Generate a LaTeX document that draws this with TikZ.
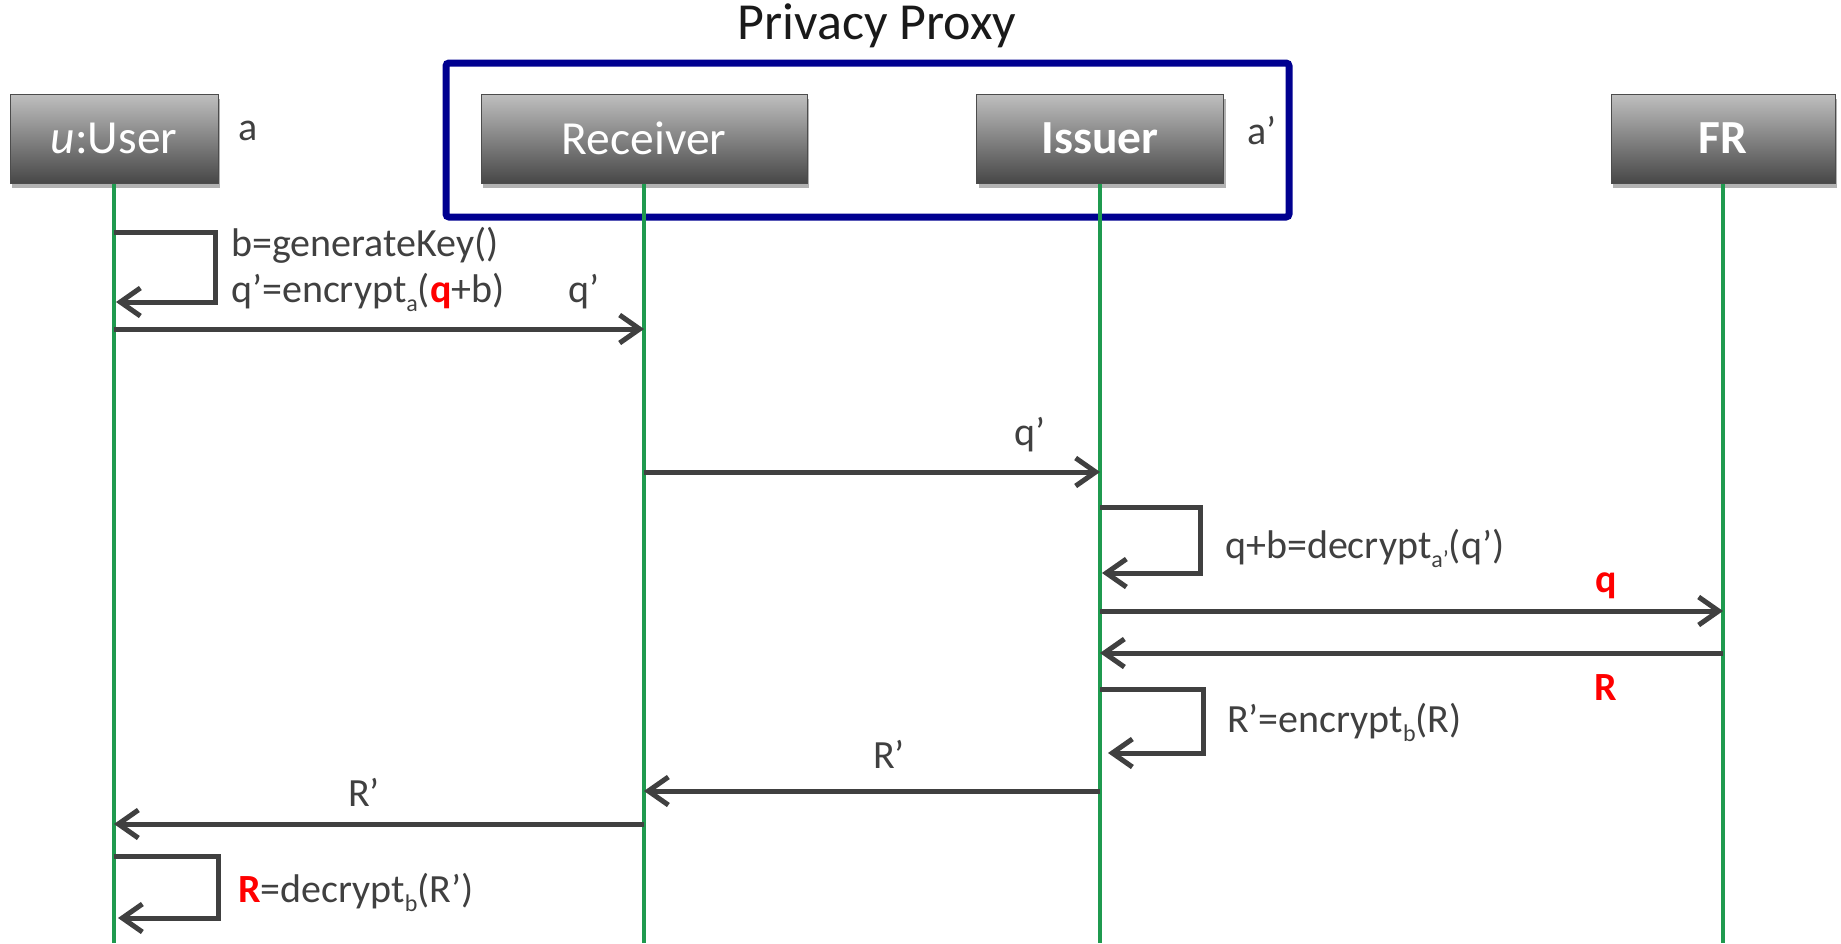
\documentclass[tikz,border=0pt]{standalone}
\usepackage{fontspec}
\setmainfont{Carlito}
\usetikzlibrary{arrows.meta,shadows}
\definecolor{ink}{HTML}{404040}
\definecolor{life}{HTML}{1F9A4F}
\definecolor{proxyblue}{HTML}{000090}
\definecolor{hot}{HTML}{FF0000}
\newcommand{\hl}[1]{\textcolor{hot}{\textbf{#1}}}
\newcommand{\lowsub}[1]{\raisebox{-0.22em}{\fontsize{24}{24}\selectfont #1}}

\begin{document}
\begin{tikzpicture}[x=1pt,y=-1pt,
  actor/.style={draw=black!70, line width=1pt, top color=black!25, bottom color=black!72,
    text=white, font=\fontsize{47.5}{50}\selectfont, minimum height=89pt, inner sep=0pt,
    drop shadow={shadow xshift=2pt, shadow yshift=-5pt, opacity=0.3, fill=black}},
  lifeline/.style={draw=life, line width=4pt},
  msg/.style={draw=ink, line width=5pt, -{Straight Barb[length=20pt,width=28pt]}},
  lbl/.style={text=ink, font=\fontsize{40}{46}\selectfont, inner sep=0pt,
    text height=0.5em, text depth=0.4em, yshift=-11pt},
]
\useasboundingbox (0,0) rectangle (1841,943);

% proxy frame and its title
\node[draw=proxyblue, line width=7pt, rounded corners=3pt,
      minimum width=843pt, minimum height=154pt] (proxy) at (867.5,140) {};
\node[font=\fontsize{52}{56}\selectfont, text=black!90] (ptitle) at (877,26) {Privacy Proxy};

% participants
\node[actor, minimum width=208pt] (user) at (114,138.5) {\textit{u}:User};
\node[actor, minimum width=326pt] (receiver) at (644,138.5) {Receiver};
\node[actor, minimum width=247pt] (issuer) at (1100,138.5) {\textbf{Issuer}};
\node[actor, minimum width=224pt] (fr) at (1723,138.5) {\textbf{FR}};

\node[lbl] (keyA) at (248,129) {a};
\node[lbl] (keyA2) at (1262,133) {a’};

% lifelines
\coordinate (userEnd) at (user |- 0,943);
\coordinate (receiverEnd) at (receiver |- 0,943);
\coordinate (issuerEnd) at (issuer |- 0,943);
\coordinate (frEnd) at (fr |- 0,943);
\draw[lifeline] (user.south) -- (userEnd);
\draw[lifeline] (receiver.south) -- (receiverEnd);
\draw[lifeline] (issuer.south) -- (issuerEnd);
\draw[lifeline] (fr.south) -- (frEnd);

% user: key generation and encryption
\draw[msg] (user |- 0,232) -- (215,232) -- (215,302) -- ([xshift=2pt]user |- 0,302);
\node[lbl, anchor=west] (t1) at (231,245) {b=generateKey()};
\node[lbl, anchor=west] (t2) at (231,291) {q’=encrypt\lowsub{a}(\hl{q}+b)};

% user -> receiver
\draw[msg] (user |- 0,329) -- (receiver |- 0,329);
\node[lbl] (l1) at (584,291) {q’};

% receiver -> issuer
\draw[msg] (receiver |- 0,472) -- (issuer |- 0,472);
\node[lbl] (l2) at (1030,434) {q’};

% issuer decrypts
\draw[msg] (issuer |- 0,507) -- (1200,507) -- (1200,573) -- ([xshift=2pt]issuer |- 0,573);
\node[lbl, anchor=west] (t3) at (1225,547) {q+b=decrypt\lowsub{a’}(q’)};

% issuer <-> FR
\draw[msg] (issuer |- 0,611) -- (fr |- 0,611);
\node[lbl] (l3) at (1606,581) {\hl{q}};
\draw[msg] (fr |- 0,653) -- (issuer |- 0,653);
\node[lbl] (l4) at (1606,689) {\hl{R}};

% issuer re-encrypts
\draw[msg] (issuer |- 0,689) -- (1203,689) -- (1203,753) -- ([xshift=8pt]issuer |- 0,753);
\node[lbl, anchor=west] (t4) at (1227,721) {R’=encrypt\lowsub{b}(R)};

% issuer -> receiver -> user
\draw[msg] (issuer |- 0,791) -- (receiver |- 0,791);
\node[lbl] (l5) at (889,757) {R’};
\draw[msg] (receiver |- 0,824) -- (user |- 0,824);
\node[lbl] (l6) at (364,795) {R’};

% user decrypts
\draw[msg] (user |- 0,856) -- (218,856) -- (218,918) -- ([xshift=4pt]user |- 0,918);
\node[lbl, anchor=west] (t5) at (238,891) {\hl{R}=decrypt\lowsub{b}(R’)};
\end{tikzpicture}
\end{document}
